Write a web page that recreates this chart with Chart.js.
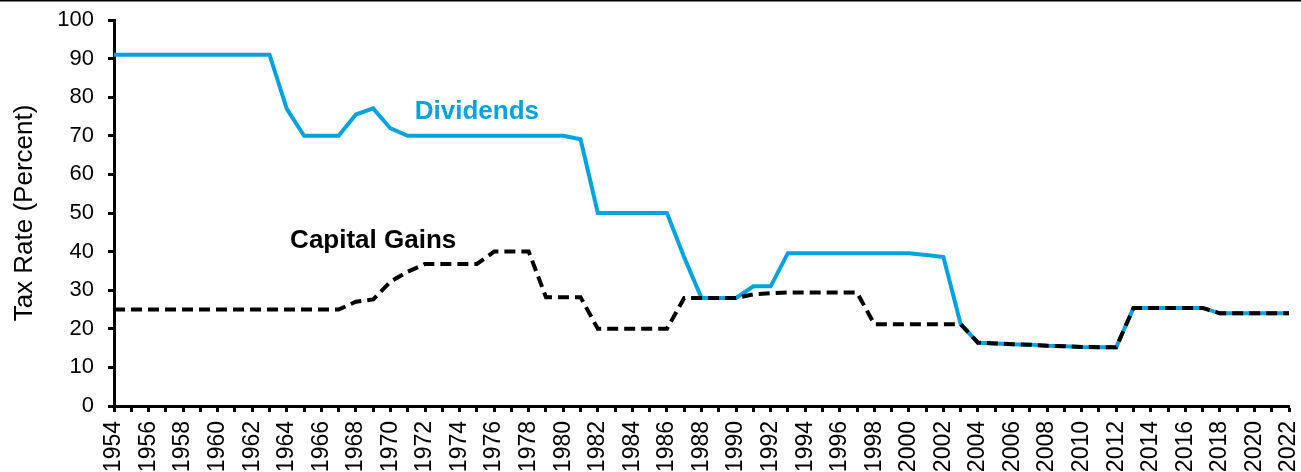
<!DOCTYPE html>
<html lang="en">
<head>
  <meta charset="UTF-8" />
  <title>Tax Rates on Dividends and Capital Gains</title>
  <script src="https://cdn.jsdelivr.net/npm/chart.js"></script>
  <style>
    html, body {
      margin: 0;
      padding: 0;
      background: #ffffff;
      overflow: hidden;
    }
    #wrap {
      width: 1301px;
      height: 472px;
      position: relative;
    }
  </style>
</head>
<body>

<div id="wrap">
  <canvas id="rateChart" width="1301" height="472"></canvas>
</div>

<script>
  // years 1954..2022, one category per year
  const years = [];
  for (let y = 1954; y <= 2022; y++) years.push(String(y));

  // top marginal rates (percent)
  const dividends = [
    91, 91, 91, 91, 91, 91, 91, 91, 91, 91,          // 1954-1963
    77, 70, 70, 70, 75.5, 77.1, 71.9,                 // 1964-1970
    70, 70, 70, 70, 70, 70, 70, 70, 70, 70,           // 1971-1980
    69.1, 50, 50, 50, 50, 50, 38.5,                   // 1981-1987
    28, 28, 28, 31, 31,                               // 1988-1992
    39.6, 39.6, 39.6, 39.6, 39.6, 39.6, 39.6, 39.6,   // 1993-2000
    39.1, 38.6, 21.2,                                 // 2001-2003
    16.4, 16.2, 16.0, 15.9, 15.6, 15.5, 15.3, 15.2, 15.2, // 2004-2012
    25.4, 25.4, 25.4, 25.4, 25.4,                     // 2013-2017
    24, 24, 24, 24, 24                                // 2018-2022
  ];

  const capitalGains = [
    25, 25, 25, 25, 25, 25, 25, 25, 25, 25, 25, 25, 25, 25, // 1954-1967
    27, 27.6, 32.2, 34.8,                             // 1968-1971
    36.8, 36.8, 36.8, 36.8,                           // 1972-1975
    40, 40, 40,                                       // 1976-1978
    28.2, 28.2, 28.2,                                 // 1979-1981
    20, 20, 20, 20, 20,                               // 1982-1986
    28, 28, 28, 28,                                   // 1987-1990
    28.9, 29.2, 29.4, 29.4, 29.4, 29.4, 29.4,         // 1991-1997
    21.2, 21.2, 21.2, 21.2, 21.2, 21.2,               // 1998-2003
    16.4, 16.2, 16.0, 15.9, 15.6, 15.5, 15.3, 15.2, 15.2, // 2004-2012
    25.4, 25.4, 25.4, 25.4, 25.4,                     // 2013-2017
    24, 24, 24, 24, 24                                // 2018-2022
  ];

  const yTicks = [0, 10, 20, 30, 40, 50, 60, 70, 80, 90, 100];

  // in-chart series labels, placed in data coordinates
  const seriesLabels = [
    { text: 'Dividends', year: '1975', value: 76.2, color: '#00A3E0', size: 26 },
    { text: 'Capital Gains', year: '1969', value: 42.8, color: '#000000', size: 26 }
  ];

  const FONT = "'Liberation Sans', Arial, sans-serif";
  const BLUE = '#00A3E0';

  // keep the plot box fixed: no extra room for overhanging tick labels
  function noOverhang(s) {
    s.paddingTop = 0;
    s.paddingBottom = 0;
    s.paddingLeft = 0;
    s.paddingRight = 0;
  }

  const labelPlugin = {
    id: 'seriesLabels',
    beforeDraw(chart) {
      // thin rule across the top edge
      const c = chart.ctx;
      c.save();
      c.fillStyle = '#000';
      c.fillRect(0, 0, chart.width, 1.5);
      c.restore();
    },
    afterDatasetsDraw(chart) {
      const c = chart.ctx;
      const xs = chart.scales.x, ys = chart.scales.y;
      c.save();
      c.textAlign = 'center';
      c.textBaseline = 'middle';
      seriesLabels.forEach(l => {
        c.font = 'bold ' + l.size + 'px ' + FONT;
        c.fillStyle = l.color;
        c.fillText(l.text, xs.getPixelForValue(years.indexOf(l.year)), ys.getPixelForValue(l.value));
      });
      c.restore();
    }
  };

  const ctx = document.getElementById('rateChart').getContext('2d');
  const chart = new Chart(ctx, {
    type: 'line',
    data: {
      labels: years,
      datasets: [
        {
          label: 'Capital Gains',
          data: capitalGains,
          borderColor: '#000000',
          borderWidth: 4,
          borderDash: [11, 6],
          pointRadius: 0,
          tension: 0,
          order: 0
        },
        {
          label: 'Dividends',
          data: dividends,
          borderColor: BLUE,
          borderWidth: 4,
          pointRadius: 0,
          tension: 0,
          order: 1
        }
      ]
    },
    options: {
      responsive: false,
      animation: false,
      layout: { autoPadding: false, padding: { top: 20, right: 12, left: 0, bottom: 0 } },
      plugins: {
        legend: { display: false },
        tooltip: { enabled: false }
      },
      scales: {
        x: {
          type: 'category',
          offset: false,
          afterFit: s => { s.height = 66; noOverhang(s); },
          grid: {
            drawOnChartArea: false,
            drawTicks: true,
            tickLength: 6,
            tickWidth: 3,
            tickColor: '#000'
          },
          border: { color: '#000', width: 3 },
          ticks: {
            autoSkip: false,
            maxRotation: 90,
            minRotation: 90,
            padding: 9,
            color: '#000',
            font: { family: FONT, size: 23 },
            callback: (v, i) => (i % 2 === 0 ? years[i] : '')
          }
        },
        y: {
          min: 0,
          max: 100,
          afterFit: s => { s.width = 114; noOverhang(s); },
          afterBuildTicks: s => { s.ticks = yTicks.map(v => ({ value: v })); },
          grid: {
            drawOnChartArea: false,
            drawTicks: true,
            tickLength: 6,
            tickWidth: 3,
            tickColor: '#000'
          },
          border: { color: '#000', width: 3 },
          title: {
            display: true,
            text: 'Tax Rate (Percent)',
            color: '#000',
            font: { family: FONT, size: 26 },
            padding: { top: 9, bottom: 4 }
          },
          ticks: {
            padding: 14,
            color: '#000',
            font: { family: FONT, size: 22 }
          }
        }
      }
    },
    plugins: [labelPlugin]
  });
</script>

</body>
</html>
